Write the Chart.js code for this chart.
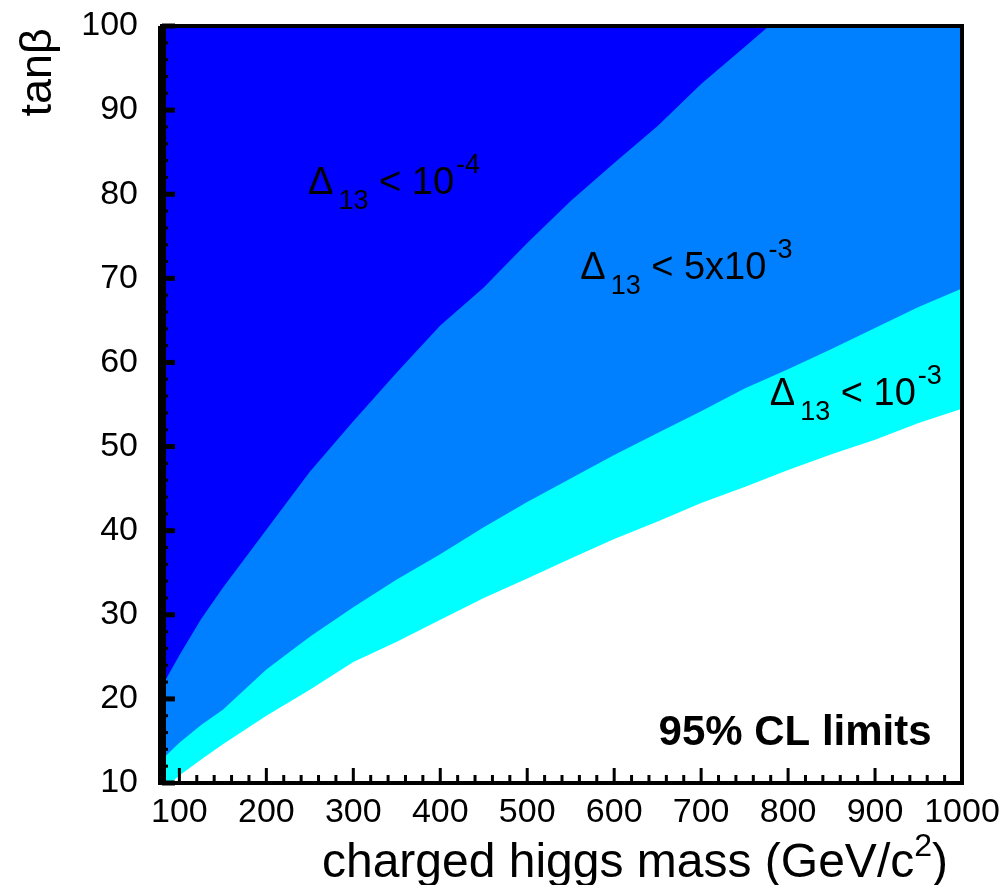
<!DOCTYPE html>
<html>
<head>
<meta charset="utf-8">
<script src="https://cdn.jsdelivr.net/npm/chart.js@4.4.1/dist/chart.umd.min.js"></script>
<style>
  html, body { margin:0; padding:0; background:#fff; }
  #wrap { width:1005px; height:885px; position:relative; }
</style>
</head>
<body>
<div id="wrap"><canvas id="chart"></canvas></div>
<script>
// boundary of each region, tanb vs charged higgs mass
const massA = [80, 100, 125, 150, 200, 250, 300, 350, 400, 450, 500, 550, 600, 650, 700, 750, 778];
const tanA  = [21.5, 25.2, 29.5, 33.2, 40.1, 47.0, 53.0, 58.8, 64.4, 68.9, 74.2, 79.2, 83.7, 88.1, 93.1, 97.5, 100];

const massB = [80, 100, 125, 150, 200, 250, 300, 350, 400, 450, 500, 550, 600, 650, 700, 750, 800, 850, 900, 950, 1000];
const tanB  = [12.8, 14.8, 16.9, 18.7, 23.5, 27.4, 30.9, 34.2, 37.2, 40.4, 43.4, 46.2, 49.0, 51.6, 54.2, 56.9, 59.2, 61.6, 64.1, 66.6, 68.8];

const massC = [80, 90, 100, 125, 150, 200, 250, 300, 350, 400, 450, 500, 550, 600, 650, 700, 750, 800, 850, 900, 950, 1000];
const tanC  = [8.8, 10.0, 10.9, 12.8, 14.6, 18.0, 21.1, 24.4, 26.8, 29.4, 32.0, 34.3, 36.7, 39.0, 41.1, 43.3, 45.2, 47.2, 49.1, 50.8, 52.8, 54.5];

const regionNames = ["10^-4", "5x10^-3", "10^-3"];
const regionColors = ["#0000ff", "#0080ff", "#00ffff"];

const xTicks = [100, 200, 300, 400, 500, 600, 700, 800, 900, 1000];
const yTicks = [10, 20, 30, 40, 50, 60, 70, 80, 90, 100];

// labels inside the plot: [mass, tanb] of the start of each label
const noteBase = ["10", "5x10", "10"];
const noteExp  = ["-4", "-3", "-3"];
const noteMass = [248, 561, 779];
const noteTan  = [80, 69.9, 55];

const FONT = '"Liberation Sans", Arial, Helvetica, sans-serif';

const toPts = (xs, ys) => xs.map((x, i) => ({ x: x, y: ys[i] }));

// frame, inward ticks, titles and labels
const decor = {
  id: "decor",
  afterDraw(chart) {
    const { ctx, chartArea: a, scales } = chart;
    const xs = scales.x, ys = scales.y;
    ctx.save();
    ctx.fillStyle = "#000";

    // y ticks (major every 10, minor every 2)
    for (let v = 10; v <= 100; v += 2) {
      const py = ys.getPixelForValue(v);
      const major = v % 10 === 0;
      const len = major ? 13 : 6;
      const th = major ? 5 : 3;
      ctx.fillRect(a.left, py - th / 2, len, th);
    }
    // x ticks (major every 100, minor every 20)
    for (let v = 80; v <= 1000; v += 20) {
      const px = xs.getPixelForValue(v);
      const major = v % 100 === 0;
      const len = major ? 15 : 8;
      ctx.fillRect(px - 1.5, a.bottom - len, 3, len);
    }

    // frame
    ctx.strokeStyle = "#000";
    ctx.lineWidth = 4;
    ctx.strokeRect(a.left, a.top, a.right - a.left, a.bottom - a.top);
    ctx.fillRect(a.left - 4, a.top, 8, a.bottom - a.top + 2);

    // region labels
    ctx.textBaseline = "alphabetic";
    ctx.textAlign = "left";
    noteBase.forEach((b, i) => {
      let x = xs.getPixelForValue(noteMass[i]);
      const y = ys.getPixelForValue(noteTan[i]);
      ctx.font = "38px " + FONT;
      ctx.fillText("\u0394", x, y);
      x += ctx.measureText("\u0394").width + 5;
      ctx.font = "27px " + FONT;
      ctx.fillText("13", x, y + 15);
      x += ctx.measureText("13").width;
      ctx.font = "38px " + FONT;
      const s = " < " + b;
      ctx.fillText(s, x, y);
      x += ctx.measureText(s).width + 2;
      ctx.font = "27px " + FONT;
      ctx.fillText(noteExp[i], x, y - 21);
    });

    ctx.font = "bold 42px " + FONT;
    ctx.fillText("95% CL limits", xs.getPixelForValue(651), ys.getPixelForValue(14.5));

    // x title with superscript
    const t1 = "charged higgs mass (GeV/c";
    ctx.font = "32px " + FONT;
    const w2 = ctx.measureText("2").width;
    ctx.font = "48px " + FONT;
    const w3 = ctx.measureText(")").width;
    const w1 = ctx.measureText(t1).width;
    let tx = 948 - w1 - w2 - w3;
    ctx.fillText(t1, tx, 877);
    tx += w1;
    ctx.font = "32px " + FONT;
    ctx.fillText("2", tx, 856);
    tx += w2;
    ctx.font = "48px " + FONT;
    ctx.fillText(")", tx, 877);

    // y title
    ctx.translate(51, 28);
    ctx.rotate(-Math.PI / 2);
    ctx.textAlign = "right";
    ctx.font = "45px " + FONT;
    ctx.fillText("tan\u03b2", 0, 0);
    ctx.restore();
  }
};

new Chart(document.getElementById("chart"), {
  type: "line",
  data: {
    datasets: [
      { label: regionNames[0], data: toPts(massA, tanA), backgroundColor: regionColors[0], fill: "end" },
      { label: regionNames[1], data: toPts(massB, tanB), backgroundColor: regionColors[1], fill: "end" },
      { label: regionNames[2], data: toPts(massC, tanC), backgroundColor: regionColors[2], fill: "end" }
    ]
  },
  options: {
    responsive: true,
    maintainAspectRatio: false,
    animation: false,
    layout: { padding: { top: 26, right: 43, left: 0, bottom: 0 } },
    elements: {
      line: { borderWidth: 0, tension: 0 },
      point: { radius: 0 }
    },
    plugins: { legend: { display: false }, tooltip: { enabled: false } },
    scales: {
      x: {
        type: "linear",
        min: 80,
        max: 1000,
        grid: { display: false, drawTicks: false, tickLength: 0 },
        border: { display: false },
        afterBuildTicks: s => { s.ticks = xTicks.map(v => ({ value: v })); },
        afterFit: s => { s.height = 102; s.paddingLeft = 0; s.paddingRight = 0; },
        ticks: { color: "#000", padding: 9, maxRotation: 0, autoSkip: false,
                 font: { family: FONT, size: 34 }, callback: v => String(v) }
      },
      y: {
        type: "linear",
        min: 10,
        max: 100,
        grid: { display: false, drawTicks: false, tickLength: 0 },
        border: { display: false },
        afterBuildTicks: s => { s.ticks = yTicks.map(v => ({ value: v })); },
        afterFit: s => { s.width = 162; s.paddingTop = 0; s.paddingBottom = 0; },
        ticks: { color: "#000", padding: 24, autoSkip: false,
                 font: { family: FONT, size: 34 }, callback: v => String(v) }
      }
    }
  },
  plugins: [decor]
});
</script>
</body>
</html>
